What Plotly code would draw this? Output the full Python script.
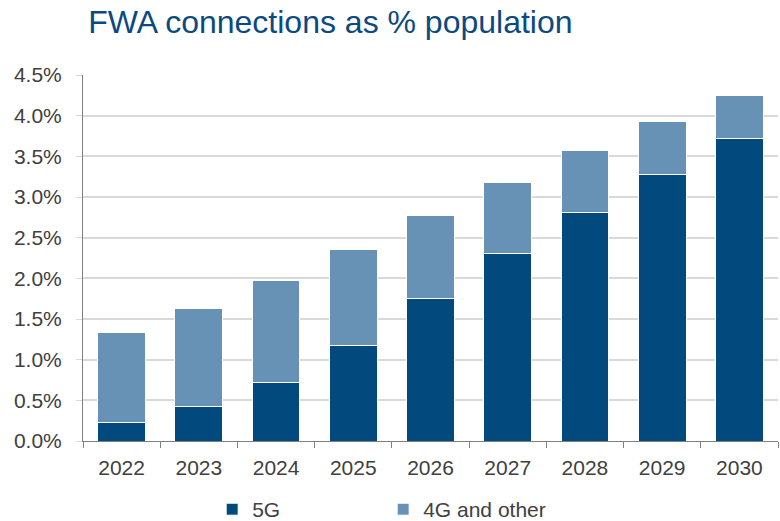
import plotly.graph_objects as go

years = ["2022", "2023", "2024", "2025", "2026", "2027", "2028", "2029", "2030"]
fg5 = [0.23, 0.43, 0.72, 1.18, 1.75, 2.30, 2.81, 3.28, 3.72]
fg4_other = [1.10, 1.20, 1.25, 1.18, 1.02, 0.88, 0.76, 0.65, 0.53]

col_5g = "#024a7e"
col_4g = "#6792b5"
font = "Liberation Sans, Arial, sans-serif"

fig = go.Figure()
fig.add_trace(go.Bar(x=years, y=fg5, name="5G", marker=dict(color=col_5g, line=dict(color="white", width=1))))
fig.add_trace(go.Bar(x=years, y=fg4_other, name="4G and other", marker=dict(color=col_4g, line=dict(color="white", width=1))))

fig.update_layout(
    width=780, height=521,
    barmode="stack", bargap=0.38,
    plot_bgcolor="white", paper_bgcolor="white",
    margin=dict(l=83, r=2, t=75, b=80),
    font=dict(family=font, size=21, color="#404040"),
    title=dict(text="FWA connections as % population", x=0.113, xanchor="left", xref="container",
               y=0.958, yanchor="middle", yref="container", automargin=False,
               font=dict(family=font, size=32, color="#0b4a80")),
    legend=dict(orientation="h", x=0.272, xanchor="left", xref="container",
                y=0.022, yanchor="middle", yref="container",
                traceorder="normal", entrywidth=126, entrywidthmode="pixels",
                font=dict(size=21, color="#404040")),
    showlegend=True,
)
fig.update_xaxes(showline=True, linecolor="#808080", linewidth=1, ticks="outside", tickson="boundaries",
                 ticklen=6, tickcolor="#808080", showgrid=False, automargin=False,
                 ticklabelstandoff=8, tickfont=dict(size=21))
fig.update_yaxes(range=[0, 4.5], dtick=0.5, tickformat=".1f", ticksuffix="%", showline=True,
                 linecolor="#808080", linewidth=1, gridcolor="#d9d9d9", gridwidth=1.5,
                 ticks="outside", ticklen=6, tickcolor="#d9d9d9", automargin=False,
                 ticklabelstandoff=10, tickfont=dict(size=21))

# page body has a default 8px margin, drop it so the figure sits at the corner
fig.write_html("out.html", config={"displayModeBar": False},
               post_script="document.body.style.margin='0';")
